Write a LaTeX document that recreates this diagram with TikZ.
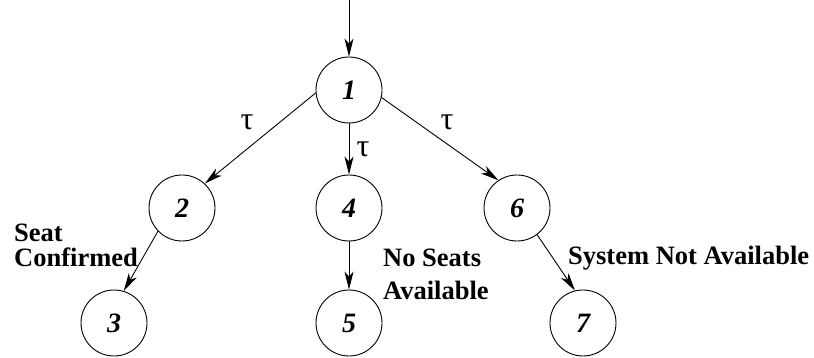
\documentclass[tikz,border=0pt]{standalone}
\usepackage{fontspec}
\setmainfont{Liberation Serif}
\usetikzlibrary{arrows.meta}
\begin{document}
\begin{tikzpicture}[x=1pt,y=1pt,
  state/.style={circle,draw,line width=0.9pt,minimum size=66pt,inner sep=0pt,
    font=\fontsize{28}{28}\selectfont\bfseries\itshape},
  trans/.style={line width=0.9pt,-{Stealth[length=18pt,width=9pt,inset=5pt]}},
  tau/.style={font=\fontsize{32}{32}\selectfont},
  lbl/.style={font=\fontsize{26.5}{25}\selectfont\bfseries,align=left,anchor=west,inner sep=0pt}]
\useasboundingbox (0,0) rectangle (814,-358);
\node[state] (n1) at (349,-90) {1};
\node[state] (n2) at (182,-208) {2};
\node[state] (n4) at (349,-208) {4};
\node[state] (n6) at (517,-208) {6};
\node[state] (n3) at (114,-323) {3};
\node[state] (n5) at (349,-323) {5};
\node[state] (n7) at (583,-323) {7};
\coordinate (start) at (349,0);
\draw[trans] (start) -- (n1.north);
\draw[trans] (n1.185) -- (n2.47);
\draw[trans] (n1.south) -- (n4.north);
\draw[trans] (n1.347) -- (n6.124);
\draw[trans] (n2.224) -- (n3.73);
\draw[trans] (n4.south) -- (n5.north);
\draw[trans] (n6.307) -- (n7.104);
\node[tau] (t1) at (247,-122) {τ};
\node[tau] (t2) at (363,-149) {τ};
\node[tau] (t3) at (447,-122) {τ};
\node[lbl] (l1) at (14,-245) {Seat\\Confirmed};
\node[lbl] (l2) at (383,-274) {No Seats\\[8pt]Available};
\node[lbl] (l3) at (568,-258) {System Not Available};
\end{tikzpicture}
\end{document}
